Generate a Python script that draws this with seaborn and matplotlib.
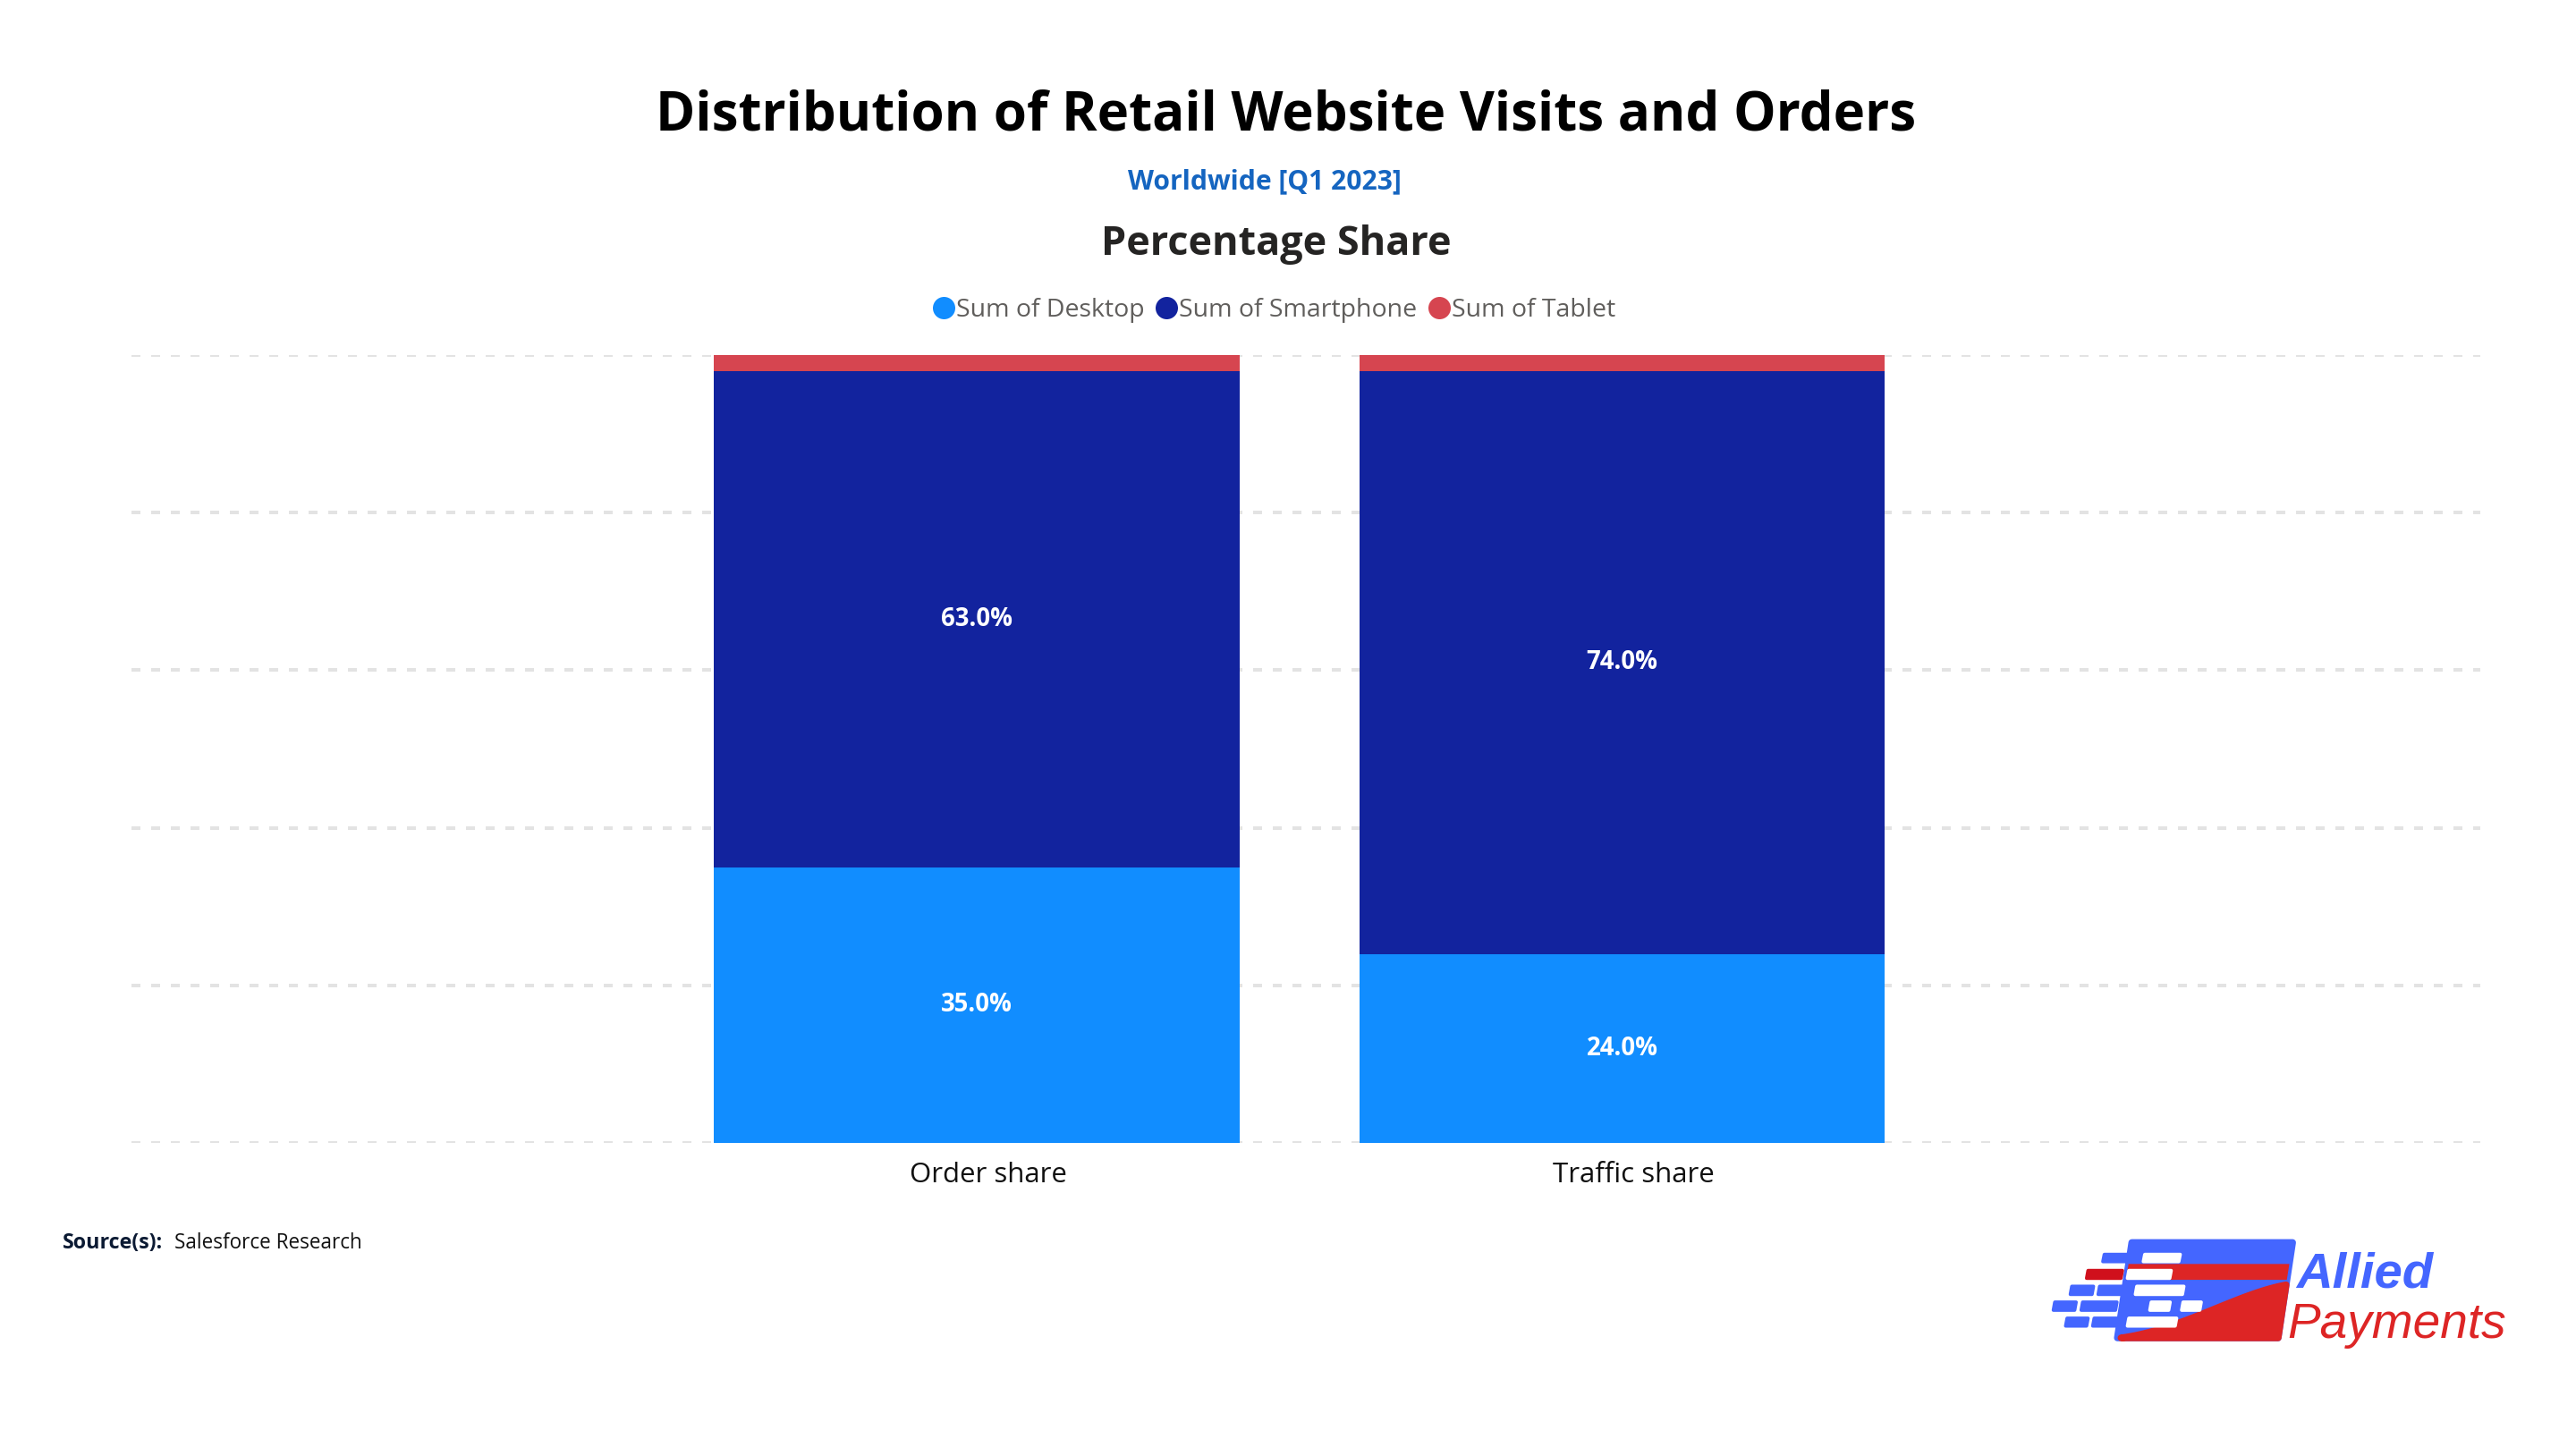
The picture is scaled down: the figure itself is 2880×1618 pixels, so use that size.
import numpy as np
import pandas as pd
import seaborn as sns
import matplotlib.pyplot as plt
from matplotlib.lines import Line2D
from matplotlib.patches import Polygon

# data
categories = ["Order share", "Traffic share"]
desktop = [35.0, 24.0]
smartphone = [63.0, 74.0]
tablet = [2.0, 2.0]
series_names = ["Sum of Desktop", "Sum of Smartphone", "Sum of Tablet"]
colors = ["#118DFF", "#12239E", "#D64550"]
grid_ticks = [0, 20, 40, 60, 80, 100]

W, H, DPI = 2880, 1618, 180

sns.set_theme(style="white")
plt.rcParams["font.family"] = ["Open Sans", "DejaVu Sans"]

df = pd.DataFrame({"category": categories, "desktop": desktop,
                   "smartphone": smartphone, "tablet": tablet})
df["top_smart"] = df["desktop"] + df["smartphone"]
df["top_tab"] = df["top_smart"] + df["tablet"]


def px(x0, y0, x1, y1):
    return [x0 / W, 1 - y1 / H, (x1 - x0) / W, (y1 - y0) / H]


fig = plt.figure(figsize=(W / DPI, H / DPI), dpi=DPI)
ax = fig.add_axes(px(147, 397, 2773, 1278))

# stacked bars: draw cumulative totals from the top down
for col, c in zip(["top_tab", "top_smart", "desktop"], colors[::-1]):
    sns.barplot(data=df, x="category", y=col, color=c, width=0.815,
                saturation=1, errorbar=None, linewidth=0, zorder=2, ax=ax)

for t in grid_ticks:
    ax.axhline(t, color="#E3E3E3", lw=1.6, ls=(0, (2.5, 3)), zorder=0)

ax.set_ylim(0, 100)
ax.set_xlim(-1.31, 2.33)
ax.set_xlabel("")
ax.set_ylabel("")
ax.set_yticks([])
ax.set_xticks(range(len(categories)))
ax.set_xticklabels([])
ax.tick_params(axis="x", length=0)
sns.despine(ax=ax, left=True, bottom=True)
for i, cat in enumerate(categories):
    ax.annotate(cat, (i, 0), xytext=(5, -14.5), textcoords="offset points",
                ha="center", va="center", fontsize=12.5, color="#111111",
                annotation_clip=False)

# segment labels
for i, row in df.iterrows():
    ax.text(i, row["desktop"] / 2, f"{row['desktop']:.1f}%", color="white",
            ha="center", va="center", fontsize=11, fontweight="bold", zorder=3)
    ax.text(i, row["desktop"] + row["smartphone"] / 2, f"{row['smartphone']:.1f}%",
            color="white", ha="center", va="center", fontsize=11,
            fontweight="bold", zorder=3)

# titles
fig.text(0.499, 1 - 130 / H, "Distribution of Retail Website Visits and Orders",
         ha="center", va="center", fontsize=24, fontweight="bold", color="#000000")
fig.text(0.491, 1 - 203 / H, "Worldwide [Q1 2023]", ha="center", va="center",
         fontsize=12, fontweight="bold", color="#1565C0")
fig.text(0.4955, 1 - 274 / H, "Percentage Share", ha="center", va="center",
         fontsize=18, fontweight="bold", color="#252423")

handles = [Line2D([], [], marker="o", ls="", markersize=9, color=c) for c in colors]
fig.legend(handles, series_names, loc="center", bbox_to_anchor=(0.495, 1 - 347 / H),
           ncol=3, frameon=False, fontsize=11.4, handlelength=0.7,
           handletextpad=0.15, columnspacing=0.5, labelcolor="#605E5C",
           borderaxespad=0)

# source
fig.text(70 / W, 1 - 1390 / H, "Source(s):", ha="left", va="center",
         fontsize=9.3, fontweight="bold", color="#0B1A33")
fig.text(195 / W, 1 - 1390 / H, "Salesforce Research", ha="left", va="center",
         fontsize=9, color="#111111")

# logo
lg = fig.add_axes(px(2250, 1350, 2880, 1530))
lg.set_xlim(0, 1559)
lg.set_ylim(540, 0)
lg.axis("off")
blue, red = "#4466FF", "#DD2525"
lg.add_patch(Polygon([(330, 118), (775, 118), (735, 438), (290, 438)],
                     closed=True, fc=blue, ec=blue, lw=3, joinstyle="round"))
lg.add_patch(Polygon([(321, 190), (766, 190), (759, 243), (314, 243)],
                     closed=True, fc=red, ec="none"))
tt = np.linspace(0, 1, 40)
p0, p1, p2, p3 = [np.array(p) for p in [(300, 438), (470, 410), (620, 290), (757, 260)]]
curve = ((1 - tt)[:, None] ** 3 * p0 + 3 * ((1 - tt) ** 2 * tt)[:, None] * p1
         + 3 * ((1 - tt) * tt ** 2)[:, None] * p2 + (tt ** 3)[:, None] * p3)
lg.add_patch(Polygon(np.vstack([curve, [(735, 438)]]), closed=True, fc=red,
                     ec=red, lw=3, joinstyle="round"))


def dash(x0, x1, y0, y1, c):
    lg.add_patch(Polygon([(x0 + 4, y0), (x1 + 4, y0), (x1, y1), (x0, y1)],
                         closed=True, fc=c, ec=c, lw=1.5, joinstyle="round"))


dash(250, 330, 158, 182, blue)
dash(362, 460, 158, 182, "white")
dash(205, 300, 212, 238, "#D0101C")
dash(318, 435, 212, 238, "white")
dash(160, 220, 265, 292, blue)
dash(237, 315, 265, 292, blue)
dash(340, 470, 265, 292, "white")
dash(113, 172, 318, 345, blue)
dash(190, 285, 318, 345, blue)
dash(380, 432, 318, 345, "white")
dash(468, 518, 318, 345, "white")
dash(147, 205, 372, 398, blue)
dash(222, 300, 372, 398, blue)
dash(318, 450, 372, 398, "white")

lg.text(785, 268, "Allied", ha="left", va="baseline", fontsize=22.5,
        fontweight="bold", fontstyle="italic", color=blue, family="Liberation Sans")
lg.text(760, 438, "Payments", ha="left", va="baseline", fontsize=22,
        fontstyle="italic", color=red, family="Liberation Sans")

fig.savefig("out.png", dpi=DPI, facecolor="white")
